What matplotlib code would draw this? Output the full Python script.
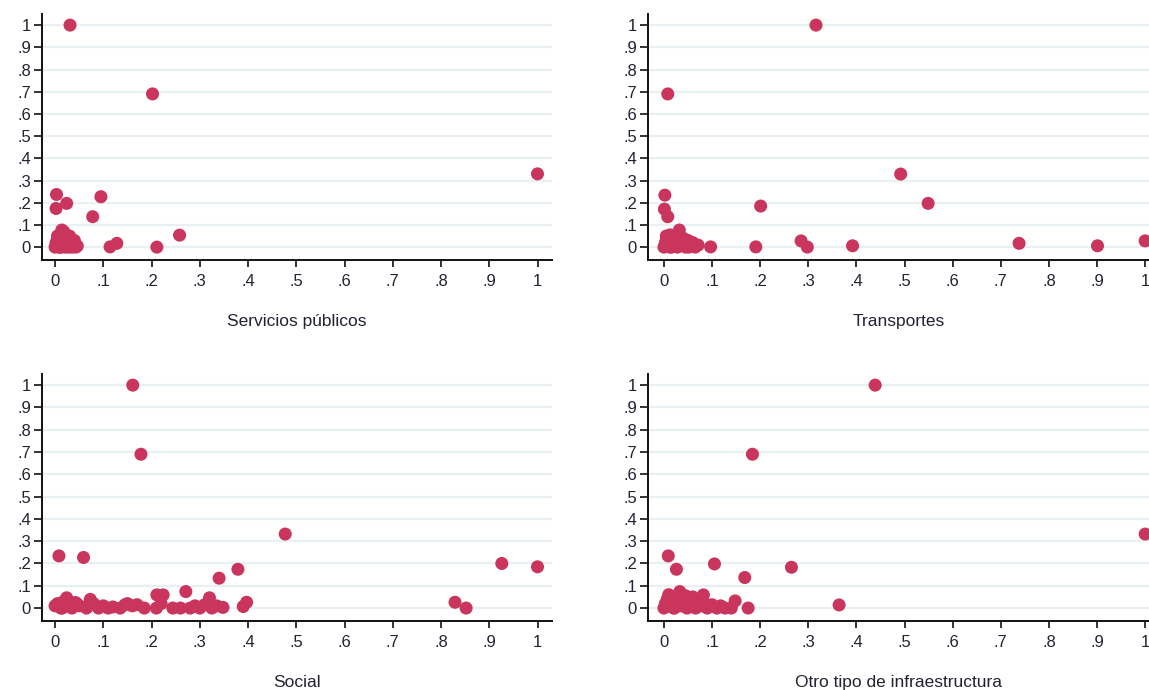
import numpy as np
import matplotlib
matplotlib.use('Agg')
import matplotlib.pyplot as plt

plt.rcParams['font.family'] = ['Liberation Sans', 'DejaVu Sans']

# Servicios públicos
serv_x = [0.031, 0.202, 0.003, 0.002, 0.024, 0.095, 0.078, 0.114, 0.128, 0.211, 0.258, 1.0,
          0.0, 0.002, 0.005, 0.008, 0.01, 0.012, 0.015, 0.018, 0.02, 0.022, 0.025, 0.028,
          0.03, 0.033, 0.035, 0.038, 0.04, 0.043, 0.046, 0.005, 0.01, 0.015, 0.02, 0.03,
          0.012, 0.008, 0.014]
serv_y = [1.0, 0.69, 0.237, 0.174, 0.197, 0.227, 0.137, 0.001, 0.017, 0.0, 0.054, 0.33,
          0.0, 0.02, 0.05, 0.01, 0.0, 0.06, 0.03, 0.07, 0.0, 0.04, 0.01, 0.0,
          0.03, 0.02, 0.0, 0.01, 0.03, 0.0, 0.005, 0.035, 0.045, 0.02, 0.06, 0.05,
          0.0, 0.0, 0.077]

# Transportes
trans_x = [0.316, 0.008, 0.002, 0.001, 0.008, 0.201, 0.191, 0.285, 0.298, 0.392, 0.492,
           0.549, 0.097, 0.032, 0.071, 0.738, 0.901, 1.0,
           0.0, 0.003, 0.006, 0.01, 0.013, 0.016, 0.02, 0.024, 0.028, 0.035, 0.04, 0.045,
           0.05, 0.055, 0.06, 0.065, 0.005, 0.012, 0.018, 0.025, 0.042, 0.052]
trans_y = [1.0, 0.69, 0.234, 0.171, 0.137, 0.185, 0.001, 0.028, 0.0, 0.006, 0.329,
           0.197, 0.001, 0.077, 0.009, 0.017, 0.006, 0.028,
           0.0, 0.02, 0.04, 0.01, 0.055, 0.0, 0.03, 0.01, 0.0, 0.02, 0.04, 0.0,
           0.03, 0.01, 0.02, 0.0, 0.05, 0.0, 0.015, 0.045, 0.01, 0.0]

# Social
soc_x = [0.161, 0.178, 0.008, 0.059, 0.477, 0.379, 0.340, 0.271, 0.211, 0.224, 0.320,
         0.397, 0.390, 0.348, 0.244, 0.073, 0.024, 0.926, 1.0, 0.829, 0.852,
         0.0, 0.005, 0.012, 0.018, 0.03, 0.035, 0.042, 0.05, 0.065, 0.08, 0.09, 0.1,
         0.11, 0.12, 0.135, 0.145, 0.15, 0.16, 0.17, 0.185, 0.21, 0.22, 0.26, 0.28,
         0.29, 0.30, 0.31, 0.325, 0.335, 0.015, 0.045, 0.068]
soc_y = [1.0, 0.69, 0.234, 0.227, 0.332, 0.174, 0.134, 0.074, 0.059, 0.059, 0.046,
         0.026, 0.007, 0.003, 0.0, 0.039, 0.046, 0.2, 0.185, 0.026, 0.0,
         0.01, 0.02, 0.0, 0.03, 0.01, 0.0, 0.025, 0.01, 0.0, 0.02, 0.0, 0.01,
         0.0, 0.005, 0.0, 0.015, 0.02, 0.01, 0.015, 0.0, 0.0, 0.02, 0.0, 0.0,
         0.01, 0.0, 0.015, 0.0, 0.01, 0.0, 0.02, 0.01]

# Otro tipo de infraestructura
otro_x = [0.439, 0.184, 0.009, 0.026, 0.105, 0.265, 0.168, 0.364, 0.175, 0.148, 0.127,
          0.082, 0.033, 1.0,
          0.0, 0.003, 0.007, 0.012, 0.016, 0.02, 0.025, 0.03, 0.036, 0.042, 0.048, 0.055,
          0.06, 0.066, 0.072, 0.078, 0.09, 0.1, 0.11, 0.118, 0.14, 0.01, 0.022, 0.045,
          0.065, 0.085]
otro_y = [1.0, 0.69, 0.234, 0.174, 0.198, 0.183, 0.137, 0.014, 0.0, 0.032, 0.0,
          0.059, 0.074, 0.332,
          0.0, 0.02, 0.04, 0.01, 0.05, 0.0, 0.03, 0.06, 0.01, 0.04, 0.0, 0.03,
          0.05, 0.0, 0.02, 0.01, 0.0, 0.015, 0.0, 0.01, 0.0, 0.06, 0.0, 0.055,
          0.035, 0.02]

panels = [
    (serv_x, serv_y, 'Servicios públicos', [0.0366, 0.6232, 0.4438, 0.3565], (-0.027, 1.030)),
    (trans_x, trans_y, 'Transportes', [0.564, 0.6232, 0.436, 0.3565], (-0.033, 1.008)),
    (soc_x, soc_y, 'Social', [0.0366, 0.1, 0.4438, 0.358], (-0.027, 1.030)),
    (otro_x, otro_y, 'Otro tipo de infraestructura', [0.564, 0.1, 0.436, 0.358], (-0.033, 1.008)),
]

ticks = np.round(np.arange(0, 1.01, 0.1), 1)
labels = ['0'] + ['.%d' % i for i in range(1, 10)] + ['1']

fig = plt.figure(figsize=(11.49, 6.9), dpi=100)
for x, y, name, pos, xl in panels:
    ax = fig.add_axes(pos)
    ax.scatter(x, y, s=88, color='#C9355C', edgecolors='none', zorder=3, clip_on=False)
    ax.set_xlim(*xl)
    ax.set_ylim(-0.058, 1.05)
    ax.set_xticks(ticks)
    ax.set_xticklabels(labels)
    ax.set_yticks(ticks)
    ax.set_yticklabels(labels)
    ax.grid(axis='y', color='#e9f0f3', linewidth=1.6, zorder=0)
    ax.set_axisbelow(True)
    for s in ['top', 'right']:
        ax.spines[s].set_visible(False)
    for s in ['left', 'bottom']:
        ax.spines[s].set_linewidth(1.4)
        ax.spines[s].set_color('#111111')
    ax.tick_params(axis='x', length=5, width=1.2, pad=5, labelsize=12, colors='#111111',
                   labelcolor='#222233')
    ax.tick_params(axis='y', length=6, width=1.2, pad=2, labelsize=12, colors='#111111',
                   labelcolor='#222233')
    ax.set_xlabel(name, fontsize=12.5, labelpad=18, color='#222233')

fig.savefig('out.png', dpi=100)
